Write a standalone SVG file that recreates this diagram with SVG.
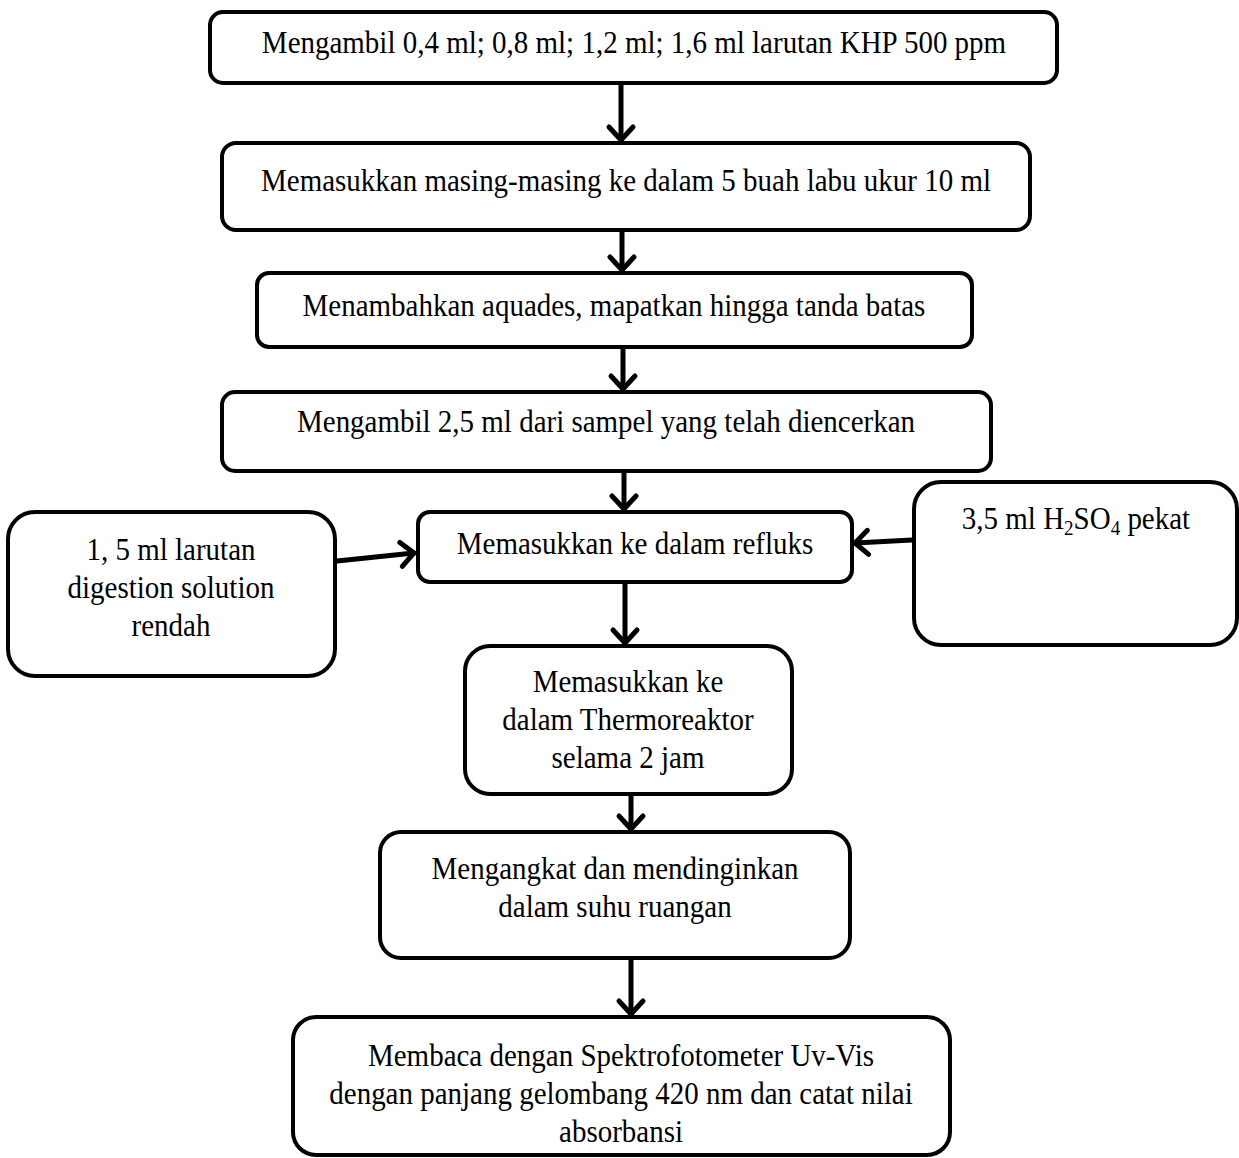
<svg xmlns="http://www.w3.org/2000/svg" width="1239" height="1158" viewBox="0 0 1239 1158">
<style>
.box{fill:#fff;stroke:#000;stroke-width:4}
.t{font-family:"Liberation Serif","Times New Roman",serif;font-size:29px;fill:#000;text-anchor:middle}
.c{fill:none;stroke:#000;stroke-width:5;stroke-linecap:round}
</style>
<defs>
<marker id="ah" viewBox="-20 -20 30 40" refX="0" refY="0" markerWidth="30" markerHeight="40" markerUnits="userSpaceOnUse" orient="auto">
<path d="M-13,-12 L0,0 L-13,12" fill="none" stroke="#000" stroke-width="5" stroke-linecap="round" stroke-linejoin="miter"/>
</marker>
</defs>
<rect width="1239" height="1158" fill="#fff"/>
<g id="connectors">
<line class="c" x1="621" y1="85" x2="621" y2="140" marker-end="url(#ah)"/>
<line class="c" x1="622" y1="232" x2="622" y2="270" marker-end="url(#ah)"/>
<line class="c" x1="623" y1="349" x2="623" y2="389" marker-end="url(#ah)"/>
<line class="c" x1="624" y1="473" x2="624" y2="509" marker-end="url(#ah)"/>
<line class="c" x1="625" y1="584" x2="625" y2="643" marker-end="url(#ah)"/>
<line class="c" x1="631" y1="796" x2="631" y2="829" marker-end="url(#ah)"/>
<line class="c" x1="631" y1="960" x2="631" y2="1014" marker-end="url(#ah)"/>
<line class="c" x1="337" y1="561" x2="414" y2="553" marker-end="url(#ah)"/>
<line class="c" x1="912" y1="540" x2="855" y2="543" marker-end="url(#ah)"/>
</g>
<g id="n1"><rect class="box" x="210" y="12" width="847" height="71" rx="13"/>
<text class="t" transform="translate(634,53) scale(1,1.12)">Mengambil 0,4 ml; 0,8 ml; 1,2 ml; 1,6 ml larutan KHP 500 ppm</text></g>
<g id="n2"><rect class="box" x="222" y="143" width="808" height="87" rx="14"/>
<text class="t" transform="translate(626,191) scale(1,1.12)">Memasukkan masing-masing ke dalam 5 buah labu ukur 10 ml</text></g>
<g id="n3"><rect class="box" x="257" y="273" width="715" height="74" rx="12"/>
<text class="t" transform="translate(614,316) scale(1,1.12)">Menambahkan aquades, mapatkan hingga tanda batas</text></g>
<g id="n4"><rect class="box" x="222" y="392" width="769" height="79" rx="13"/>
<text class="t" transform="translate(606,432) scale(1,1.12)">Mengambil 2,5 ml dari sampel yang telah diencerkan</text></g>
<g id="n5"><rect class="box" x="418" y="512" width="434" height="70" rx="12"/>
<text class="t" transform="translate(635,554) scale(1,1.12)">Memasukkan ke dalam refluks</text></g>
<g id="nL"><rect class="box" x="8" y="512" width="327" height="164" rx="27"/>
<text class="t" transform="translate(171,560) scale(1,1.12)">1, 5 ml larutan</text>
<text class="t" transform="translate(171,598) scale(1,1.12)">digestion solution</text>
<text class="t" transform="translate(171,636) scale(1,1.12)">rendah</text></g>
<g id="nR"><rect class="box" x="914" y="482" width="323" height="163" rx="27"/>
<text class="t" transform="translate(1076,529) scale(1,1.12)">3,5 ml H<tspan font-size="19" dy="5">2</tspan><tspan dy="-5">SO</tspan><tspan font-size="19" dy="5">4</tspan><tspan dy="-5"> pekat</tspan></text></g>
<g id="n6"><rect class="box" x="465" y="646" width="327" height="148" rx="25"/>
<text class="t" transform="translate(628,692) scale(1,1.12)">Memasukkan ke</text>
<text class="t" transform="translate(628,730) scale(1,1.12)">dalam Thermoreaktor</text>
<text class="t" transform="translate(628,768) scale(1,1.12)">selama 2 jam</text></g>
<g id="n7"><rect class="box" x="380" y="832" width="470" height="126" rx="21"/>
<text class="t" transform="translate(615,879) scale(1,1.12)">Mengangkat dan mendinginkan</text>
<text class="t" transform="translate(615,917) scale(1,1.12)">dalam suhu ruangan</text></g>
<g id="n8"><rect class="box" x="293" y="1017" width="657" height="138" rx="23"/>
<text class="t" transform="translate(621,1066) scale(1,1.12)">Membaca dengan Spektrofotometer Uv-Vis</text>
<text class="t" transform="translate(621,1104) scale(1,1.12)">dengan panjang gelombang 420 nm dan catat nilai</text>
<text class="t" transform="translate(621,1142) scale(1,1.12)">absorbansi</text></g>
</svg>
